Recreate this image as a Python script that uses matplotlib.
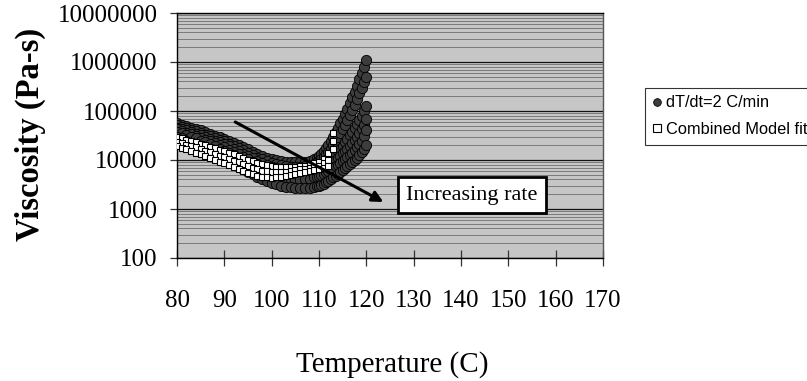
import matplotlib
matplotlib.use("Agg")
import matplotlib.pyplot as plt
from matplotlib.ticker import FixedLocator, FixedFormatter, LogLocator, NullFormatter

# ---------------- data ----------------
temp_circ = [80, 81, 82, 83, 84, 85, 86, 87, 88, 89, 90, 91, 92, 93, 94, 95, 96, 97, 98, 99,
             100, 101, 102, 103, 104, 105, 106, 107, 108, 109,
             109.5, 110, 110.5, 111, 111.5, 112, 112.5, 113, 113.5, 114, 114.5, 115, 115.5,
             116, 116.5, 117, 117.5, 118, 118.5, 119, 119.5, 120]

visc_rate_a = [57000, 53000, 50000, 46000, 43000, 40000, 37000, 34000, 31500, 29000, 27000,
               24500, 22500, 20500, 18500, 16500, 14500, 13000, 12000, 11000, 10500, 10000,
               9500, 9200, 9000, 9000, 9000, 9200, 9500, 10500,
               11200, 12000, 13300, 15000, 17200, 20000, 24500, 30000, 37000, 45000, 56000,
               70000, 88000, 110000, 145000, 190000, 250000, 330000, 450000, 600000, 800000,
               1100000]
visc_rate_ab = [51000, 48000, 45000, 41500, 38500, 36000, 33000, 30500, 28000, 26000, 24000,
                21500, 19500, 17500, 16000, 14200, 12500, 11200, 10300, 9400, 8800, 8300,
                7800, 7500, 7300, 7200, 7200, 7400, 7700, 8400,
                9000, 9600, 10500, 11500, 13000, 14500, 17000, 20000, 24000, 29000, 35000,
                43000, 53000, 66000, 82000, 105000, 135000, 175000, 230000, 300000, 390000,
                500000]
visc_rate_b = [46000, 43000, 40000, 37000, 34500, 32000, 29500, 27000, 25000, 23000, 21000,
               19000, 17000, 15000, 13500, 12000, 10800, 9700, 8800, 8000, 7300, 6800, 6400,
               6100, 5900, 5800, 5800, 5900, 6200, 6700,
               7100, 7500, 8000, 8600, 9300, 10000, 11000, 12200, 13500, 15000, 17000, 19500,
               23000, 27000, 32000, 38000, 45000, 55000, 66000, 80000, 100000, 125000]
visc_rate_bc = [42000, 39000, 36000, 33500, 31000, 28500, 26000, 24000, 22000, 20000, 18000,
                16300, 14600, 13000, 11500, 10300, 9200, 8200, 7400, 6700, 6100, 5600, 5300,
                5000, 4800, 4700, 4700, 4800, 5000, 5400,
                5700, 6000, 6300, 6700, 7200, 7700, 8400, 9100, 10000, 11000, 12200, 13600,
                15200, 17000, 19500, 22500, 26000, 30000, 35000, 43000, 53000, 68000]
visc_rate_c = [38000, 35000, 32500, 30000, 27500, 25000, 23000, 21000, 19000, 17000, 15500,
               14000, 12500, 11000, 9800, 8800, 7800, 7000, 6300, 5700, 5200, 4800, 4500,
               4200, 4000, 3900, 3900, 4000, 4100, 4400,
               4600, 4800, 5000, 5300, 5600, 6000, 6400, 6900, 7400, 8000, 8700, 9500, 10500,
               11500, 12800, 14200, 16000, 18500, 21500, 25000, 31000, 40000]
visc_rate_d = [30000, 27500, 25000, 22500, 20500, 18500, 16500, 15000, 13500, 12000, 10500,
               9300, 8200, 7200, 6400, 5700, 5100, 4600, 4100, 3700, 3400, 3200, 3000, 2850,
               2750, 2700, 2650, 2650, 2700, 2800,
               2900, 3000, 3150, 3300, 3500, 3800, 4100, 4400, 4800, 5200, 5700, 6200, 6800,
               7500, 8200, 9000, 10000, 11000, 12500, 14500, 17000, 20000]

temp_fit = [80, 81, 82, 83, 84, 85, 86, 87, 88, 89, 90, 91, 92, 93, 94, 95, 96, 97, 98, 99,
            100, 101, 102, 103, 104, 105, 106, 107, 108, 109, 110, 111, 112, 113]
fit_upper = [29000, 27500, 26000, 24500, 23000, 21500, 20000, 18700, 17500, 16200, 15000,
             14000, 13000, 12000, 11000, 10200, 9500, 8800, 8200, 7800, 7500, 7300, 7200,
             7200, 7200, 7300, 7500, 7700, 8000, 8500, 9000, 10500, 14000, 36000]
fit_middle = [23500, 22000, 20500, 19200, 18000, 16700, 15500, 14300, 13200, 12200, 11300,
              10500, 9700, 8900, 8100, 7500, 7000, 6500, 6100, 5900, 5700, 5700, 5700, 5800,
              6000, 6200, 6400, 6600, 6900, 7200, 7600, 8500, 10000, 25000]
fit_lower = [19000, 17800, 16500, 15200, 14000, 13000, 12000, 11000, 10000, 9200, 8500, 7800,
             7200, 6600, 6000, 5500, 5100, 4800, 4500, 4400, 4300, 4400, 4500, 4700, 5000,
             5200, 5500, 5700, 6000, 6200, 6500, 7000, 7500, 17000]

x_ticks = [80, 90, 100, 110, 120, 130, 140, 150, 160, 170]
y_ticks = [100, 1000, 10000, 100000, 1000000, 10000000]
y_tick_labels = ["100", "1000", "10000", "100000", "1000000", "10000000"]

label_data = "dT/dt=2 C/min"
label_fit = "Combined Model fit"
arrow_text = "Increasing rate"
arrow_start = (92.3, 59700)
arrow_end = (123.6, 1390)

# ---------------- figure ----------------
W, H = 807, 381
fig = plt.figure(figsize=(W / 100, H / 100), dpi=100)
fig.patch.set_facecolor("white")
ax = fig.add_axes([177 / W, 1 - 258 / H, (603 - 177) / W, (258 - 13) / H])
ax.set_facecolor("#c6c6c6")
ax.set_yscale("log")
ax.set_xlim(80, 170)
ax.set_ylim(100, 1e7)

# grid lines (horizontal only)
ax.yaxis.set_minor_locator(LogLocator(base=10, subs=[2, 3, 4, 5, 6, 7, 8, 9], numticks=100))
ax.yaxis.set_minor_formatter(NullFormatter())
ax.yaxis.grid(True, which="major", color="#111111", lw=0.9)
ax.yaxis.grid(True, which="minor", color="#6e6e6e", lw=0.6)
ax.set_axisbelow(True)

circ_style = dict(linestyle="none", marker="o", markersize=7.4,
                  markerfacecolor="#3d3d3d", markeredgecolor="black",
                  markeredgewidth=0.6, zorder=3)
h_data, = ax.plot(temp_circ, visc_rate_a, label=label_data, **circ_style)
for series in (visc_rate_ab, visc_rate_b, visc_rate_bc, visc_rate_c, visc_rate_d):
    ax.plot(temp_circ, series, **circ_style)

sq_style = dict(linestyle="none", marker="s", markersize=4.6,
                markerfacecolor="white", markeredgecolor="black",
                markeredgewidth=0.8, zorder=4)
h_fit, = ax.plot(temp_fit, fit_upper, label=label_fit, **sq_style)
ax.plot(temp_fit, fit_middle, **sq_style)
ax.plot(temp_fit, fit_lower, **sq_style)

ax.annotate("", xy=arrow_end, xytext=arrow_start,
            arrowprops=dict(arrowstyle="-|>", color="black", lw=2.2,
                            mutation_scale=16, shrinkA=0, shrinkB=0),
            zorder=6)

ax.text(0.692, 0.257, arrow_text, transform=ax.transAxes, ha="center", va="center",
        fontsize=16, family="Liberation Serif", zorder=7,
        bbox=dict(boxstyle="square,pad=0.38", fc="white", ec="black", lw=2))

# ticks
ax.xaxis.set_major_locator(FixedLocator(x_ticks))
ax.yaxis.set_major_locator(FixedLocator(y_ticks))
ax.yaxis.set_major_formatter(FixedFormatter(y_tick_labels))
ax.tick_params(axis="x", which="major", direction="inout", length=12, width=0.9,
               color="#333333", pad=17, labelsize=18)
ax.tick_params(axis="y", which="major", direction="out", length=5, width=0.9,
               color="#333333", pad=9, labelsize=18)
ax.tick_params(axis="y", which="minor", length=0)
for lab in ax.get_xticklabels() + ax.get_yticklabels():
    lab.set_family("Liberation Serif")

for s in ["left", "bottom", "top"]:
    ax.spines[s].set_color("black")
    ax.spines[s].set_linewidth(1.0)
ax.spines["right"].set_color("#555555")
ax.spines["right"].set_linewidth(1.0)

fig.text(30 / W, 1 - 134 / H, "Viscosity (Pa-s)", rotation=90, ha="center", va="center",
         fontsize=23.5, fontweight="bold", family="Liberation Serif")
fig.text(392 / W, 1 - 365 / H, "Temperature (C)", ha="center", va="center",
         fontsize=21, family="Liberation Serif")

leg = fig.legend(handles=[h_data, h_fit], loc="upper left",
                 bbox_to_anchor=(645 / W, 1 - 88 / H), frameon=True, fancybox=False,
                 edgecolor="black", borderaxespad=0, handlelength=0.6,
                 handletextpad=0.25, labelspacing=0.72, borderpad=0.45,
                 prop=dict(family="Liberation Sans", size=11.8))
leg.get_frame().set_linewidth(0.8)
for hnd in leg.legend_handles:
    hnd.set_markersize(5.5)

fig.savefig("out.png", dpi=100)
